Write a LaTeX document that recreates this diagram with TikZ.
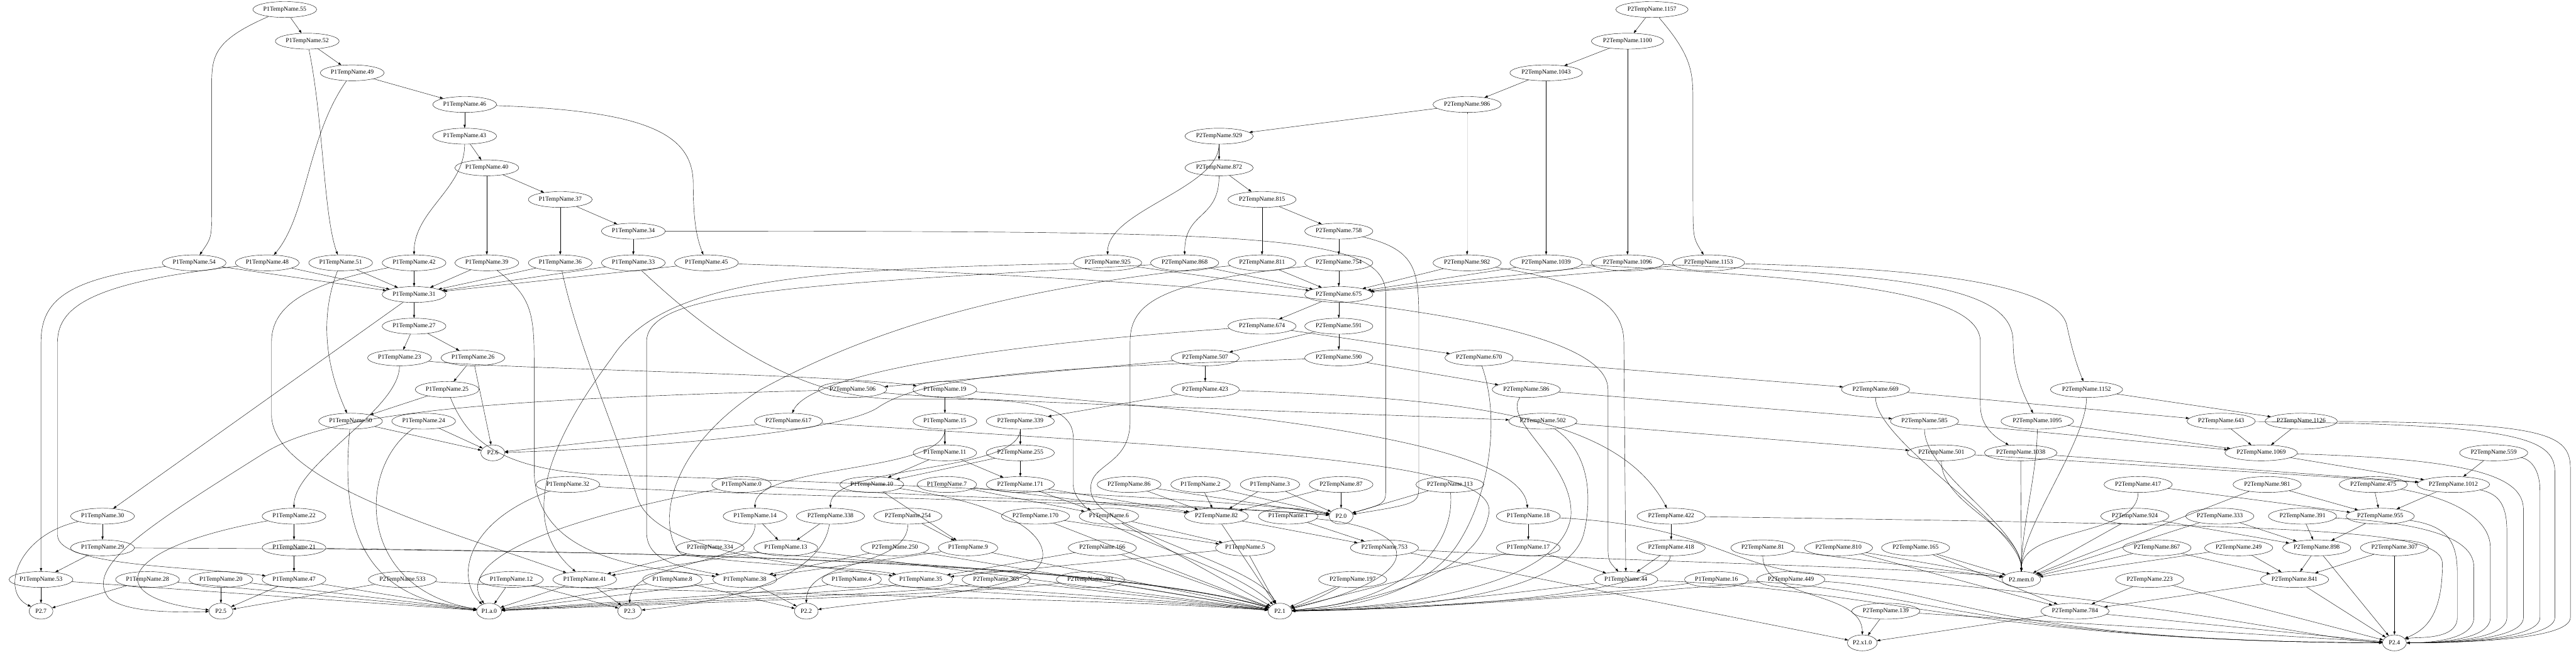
\documentclass[tikz,border=0pt]{standalone}
\usepackage{fontspec}
\setmainfont{Liberation Serif}
\usetikzlibrary{shapes.geometric,arrows.meta}
\tikzset{
  link/.style={-{Triangle[length=7.5pt,width=5pt]}, line width=0.6pt},
  drop/.style={link, to path={(\tikztostart.south) .. controls +(0,1.4) and +(0,-1.4) .. (\tikztotarget.north)}},
  sink/.style={minimum width=54pt}
}
\begin{document}
\begin{tikzpicture}[x=0.75pt, y=-71.78pt, every node/.style={ellipse,draw,line width=0.6pt,minimum height=36pt,inner xsep=2.5pt,font=\fontsize{14}{16}\selectfont}]
\fill[white] (0,-0.3) rectangle (7789,20.38);
\useasboundingbox (0,-0.3) rectangle (7789,20.38);
\node (p55) at (861,0) {P1TempName.55};
\node (p52) at (929,1) {P1TempName.52};
\node (p49) at (1065,2) {P1TempName.49};
\node (p46) at (1405,3) {P1TempName.46};
\node (p43) at (1405,4) {P1TempName.43};
\node (p40) at (1472,5) {P1TempName.40};
\node (p37) at (1694,6) {P1TempName.37};
\node (p34) at (1915,7) {P1TempName.34};
\node (p54) at (587,8) {P1TempName.54};
\node (p48) at (808,8) {P1TempName.48};
\node (p51) at (1030,8) {P1TempName.51};
\node (p42) at (1252,8) {P1TempName.42};
\node (p39) at (1472,8) {P1TempName.39};
\node (p36) at (1694,8) {P1TempName.36};
\node (p33) at (1915,8) {P1TempName.33};
\node (p45) at (2136,8) {P1TempName.45};
\node (p31) at (1252,9) {P1TempName.31};
\node (p27) at (1252,10) {P1TempName.27};
\node (p23) at (1208,11) {P1TempName.23};
\node (p26) at (1430,11) {P1TempName.26};
\node (p25) at (1352,12) {P1TempName.25};
\node (p50) at (1060,13) {P1TempName.50};
\node (p24) at (1281,13) {P1TempName.24};
\node[sink] (s26) at (1490,14) {P2.6};
\node (p30) at (310,16) {P1TempName.30};
\node (p22) at (889,16) {P1TempName.22};
\node (p29) at (310,17) {P1TempName.29};
\node (p21) at (889,17) {P1TempName.21};
\node (p53) at (124,18) {P1TempName.53};
\node (p28) at (446,18) {P1TempName.28};
\node (p20) at (668,18) {P1TempName.20};
\node (p47) at (889,18) {P1TempName.47};
\node (q533) at (1217,18) {P2TempName.533};
\node[sink] (s27) at (124,19) {P2.7};
\node[sink] (s25) at (668,19) {P2.5};
\node (p32) at (1717,15) {P1TempName.32};
\node (p0) at (2242,15) {P1TempName.0};
\node (p10) at (2636,15) {P1TempName.10};
\node (p14) at (2283,16) {P1TempName.14};
\node (q338) at (2511,16) {P2TempName.338};
\node (q334) at (2147,17) {P2TempName.334};
\node (p13) at (2376,17) {P1TempName.13};
\node (p12) at (1546,18) {P1TempName.12};
\node (p41) at (1768,18) {P1TempName.41};
\node (p8) at (2033,18) {P1TempName.8};
\node (p38) at (2252,18) {P1TempName.38};
\node (p4) at (2575,18) {P1TempName.4};
\node[sink] (sa0) at (1479,19) {P1.a.0};
\node[sink] (s23) at (1904,19) {P2.3};
\node[sink] (s22) at (2438,19) {P2.2};
\node (q617) at (2384,13) {P2TempName.617};
\node (q506) at (2578,12) {P2TempName.506};
\node (q1157) at (4995,0) {P2TempName.1157};
\node (q1100) at (4921,1) {P2TempName.1100};
\node (q1043) at (4675,2) {P2TempName.1043};
\node (q986) at (4436,3) {P2TempName.986};
\node (q929) at (3686,4) {P2TempName.929};
\node (q872) at (3686,5) {P2TempName.872};
\node (q815) at (3816,6) {P2TempName.815};
\node (q758) at (4048,7) {P2TempName.758};
\node (q925) at (3349,8) {P2TempName.925};
\node (q868) at (3582,8) {P2TempName.868};
\node (q811) at (3816,8) {P2TempName.811};
\node (q754) at (4048,8) {P2TempName.754};
\node (q982) at (4436,8) {P2TempName.982};
\node (q1039) at (4675,8) {P2TempName.1039};
\node (q1096) at (4921,8) {P2TempName.1096};
\node (q1153) at (5166,8) {P2TempName.1153};
\node (q675) at (4048,9) {P2TempName.675};
\node (q674) at (3816,10) {P2TempName.674};
\node (q591) at (4048,10) {P2TempName.591};
\node (q507) at (3644,11) {P2TempName.507};
\node (q590) at (4048,11) {P2TempName.590};
\node (q670) at (4472,11) {P2TempName.670};
\node (p19) at (2857,12) {P1TempName.19};
\node (q423) at (3644,12) {P2TempName.423};
\node (q586) at (4615,12) {P2TempName.586};
\node (q669) at (5671,12) {P2TempName.669};
\node (q1152) at (6309,12) {P2TempName.1152};
\node (p15) at (2857,13) {P1TempName.15};
\node (q339) at (3085,13) {P2TempName.339};
\node (q502) at (4665,13) {P2TempName.502};
\node (q585) at (5819,13) {P2TempName.585};
\node (q1095) at (6160,13) {P2TempName.1095};
\node (q643) at (6716,13) {P2TempName.643};
\node (q1126) at (6958,13) {P2TempName.1126};
\node (p11) at (2857,14) {P1TempName.11};
\node (q255) at (3085,14) {P2TempName.255};
\node (q501) at (5870,14) {P2TempName.501};
\node (q1038) at (6110,14) {P2TempName.1038};
\node (q1069) at (6837,14) {P2TempName.1069};
\node (q559) at (7540,14) {P2TempName.559};
\node (p7) at (2863,15) {P1TempName.7};
\node (q171) at (3085,15) {P2TempName.171};
\node (q86) at (3414,15) {P2TempName.86};
\node (p2) at (3630,15) {P1TempName.2};
\node (p3) at (3840,15) {P1TempName.3};
\node (q87) at (4055,15) {P2TempName.87};
\node (q113) at (4384,15) {P2TempName.113};
\node (q417) at (6465,15) {P2TempName.417};
\node (q981) at (6855,15) {P2TempName.981};
\node (q475) at (7176,15) {P2TempName.475};
\node (q1012) at (7418,15) {P2TempName.1012};
\node (q254) at (2745,16) {P2TempName.254};
\node (q170) at (3131,16) {P2TempName.170};
\node (p6) at (3353,16) {P1TempName.6};
\node (q82) at (3678,16) {P2TempName.82};
\node (p1) at (3895,16) {P1TempName.1};
\node[sink] (s20) at (4055,16) {P2.0};
\node (p18) at (4621,16) {P1TempName.18};
\node (q422) at (5053,16) {P2TempName.422};
\node (q924) at (6455,16) {P2TempName.924};
\node (q333) at (6712,16) {P2TempName.333};
\node (q391) at (6962,16) {P2TempName.391};
\node (q955) at (7197,16) {P2TempName.955};
\node (q250) at (2706,17) {P2TempName.250};
\node (p9) at (2927,17) {P1TempName.9};
\node (q166) at (3333,17) {P2TempName.166};
\node (p5) at (3765,17) {P1TempName.5};
\node (q753) at (4186,17) {P2TempName.753};
\node (p17) at (4621,17) {P1TempName.17};
\node (q418) at (5053,17) {P2TempName.418};
\node (q81) at (5330,17) {P2TempName.81};
\node (q810) at (5559,17) {P2TempName.810};
\node (q165) at (5792,17) {P2TempName.165};
\node (q867) at (6522,17) {P2TempName.867};
\node (q249) at (6769,17) {P2TempName.249};
\node (q898) at (7005,17) {P2TempName.898};
\node (q307) at (7240,17) {P2TempName.307};
\node (p35) at (2784,18) {P1TempName.35};
\node (q365) at (3012,18) {P2TempName.365};
\node (q281) at (3297,18) {P2TempName.281};
\node (q197) at (4090,18) {P2TempName.197};
\node (p44) at (4916,18) {P1TempName.44};
\node (p16) at (5190,18) {P1TempName.16};
\node (q449) at (5415,18) {P2TempName.449};
\node[sink] (smem) at (6112,18) {P2.mem.0};
\node (q223) at (6500,18) {P2TempName.223};
\node (q841) at (6938,18) {P2TempName.841};
\node[sink] (s21) at (3870,19) {P2.1};
\node (q139) at (5702,19) {P2TempName.139};
\node (q784) at (6274,19) {P2TempName.784};
\node[sink] (sx) at (5631,20) {P2.x1.0};
\node[sink] (s24) at (7240,20) {P2.4};
\draw[link] (p55) -- (p52);
\draw[link] (p52) -- (p49);
\draw[link] (p49) -- (p46);
\draw[link] (p46) -- (p43);
\draw[link] (p43) -- (p40);
\draw[link] (p40) -- (p37);
\draw[link] (p37) -- (p34);
\draw[link] (p34) -- (p33);
\draw[link] (p40) -- (p39);
\draw[link] (p37) -- (p36);
\draw[link] (p55) .. controls (640,1) and (640,1.5) .. (640,2.5) -- (640,6.3) .. controls (640,7.2) .. (p54);
\draw[link] (p52) .. controls (978,3.5) and (978,6.5) .. (p51);
\draw[link] (p49) .. controls (929,4) and (929,6.5) .. (p48);
\draw[link] (p46) .. controls (1950,3.2) and (2096,3.9) .. (2096,5.5) .. controls (2096,6.8) and (2110,7.3) .. (p45);
\draw[drop] (p43) to (p42);
\draw[link] (p34) .. controls (3800,7) and (4190,7.05) .. (4190,9) -- (4190,15.1) .. controls (4190,15.6) .. (s20);
\draw[link] (p54) -- (p31);
\draw[link] (p48) -- (p31);
\draw[link] (p51) -- (p31);
\draw[link] (p42) -- (p31);
\draw[link] (p39) -- (p31);
\draw[link] (p36) -- (p31);
\draw[link] (p33) -- (p31);
\draw[link] (p45) -- (p31);
\draw[link] (p54) .. controls (200,8.5) and (124,9.2) .. (124,10.5) -- (p53);
\draw[link] (p48) .. controls (300,8.6) and (174,9.3) .. (174,10.5) -- (174,16.6) .. controls (174,17.6) and (600,17.6) .. (p47);
\draw[link] (p51) .. controls (974,9.5) and (974,11) .. (p50);
\draw[link] (p42) .. controls (900,8.7) and (821,9.5) .. (821,10.5) -- (821,12.8) .. controls (821,15) and (1400,16.6) .. (p41);
\draw[link] (p39) .. controls (1600,9) and (1615,9.5) .. (1615,11) -- (1615,14.5) .. controls (1615,17.2) and (1900,17.6) .. (p38);
\draw[link] (p36) .. controls (1745,10.5) and (1850,13) .. (1930,15.5) .. controls (2000,17.3) and (2500,17.6) .. (p35);
\draw[link] (p33) .. controls (2150,10.3) and (2400,12.2) .. (2700,12.3) .. controls (3000,12.3) and (3245,12.2) .. (3245,13.5) -- (3245,15) .. controls (3250,16.5) and (3700,17.3) .. (s21);
\draw[link] (p45) .. controls (3800,8.6) and (4862,9.6) .. (4862,12) -- (4862,16.8) .. controls (4862,17.4) .. (p44);
\draw[link] (p31) -- (p30);
\draw[link] (p31) -- (p27);
\draw[link] (p27) -- (p26);
\draw[link] (p27) -- (p23);
\draw[drop] (p23) to (p22);
\draw[link] (p23) .. controls (1500,11.35) and (2500,11.5) .. (p19);
\draw[link] (p26) -- (p25);
\draw[link] (p26) -- (s26);
\draw[link] (p25) -- (p50);
\draw[link] (p25) .. controls (1410,13.5) and (1500,14.6) .. (1850,14.7) .. controls (2800,15) and (3800,15.5) .. (s20);
\draw[link] (p24) -- (s26);
\draw[link] (p24) .. controls (1078,14.5) and (1078,18.3) .. (sa0);
\draw[link] (p50) -- (s26);
\draw[link] (p50) .. controls (1028,16.5) and (1100,18.6) .. (sa0);
\draw[link] (p30) -- (p29);
\draw[link] (p30) .. controls (50,16.6) and (0,18.4) .. (s27);
\draw[link] (p29) -- (p53);
\draw[link] (p29) .. controls (1500,17.05) and (3300,17.2) .. (s21);
\draw[link] (p22) -- (p21);
\draw[link] (p22) .. controls (350,17) and (300,18.6) .. (s25);
\draw[link] (p21) -- (p47);
\draw[link] (p21) .. controls (1500,17.1) and (3300,17.25) .. (s21);
\draw[link] (p53) -- (s27);
\draw[link] (p28) -- (s27);
\draw[link] (p20) -- (s25);
\draw[link] (p47) -- (s25);
\draw[link] (q533) -- (s25);
\draw[link] (q533) .. controls (1700,18.35) and (3300,18.55) .. (s21);
\draw[link] (p53) -- (sa0);
\draw[link] (p28) -- (sa0);
\draw[link] (p20) -- (sa0);
\draw[link] (p47) -- (sa0);
\draw[link] (p12) -- (sa0);
\draw[link] (p41) -- (sa0);
\draw[link] (p8) -- (sa0);
\draw[link] (p38) -- (sa0);
\draw[link] (p4) .. controls (2400,18.4) and (1900,18.65) .. (sa0);
\draw[link] (p35) .. controls (2600,18.42) and (1900,18.7) .. (sa0);
\draw[link] (q365) .. controls (2800,18.45) and (1900,18.75) .. (sa0);
\draw[link] (q281) .. controls (2900,18.5) and (1900,18.8) .. (sa0);
\draw[link] (p32) .. controls (1400,16.2) and (1380,18) .. (sa0);
\draw[link] (p0) .. controls (1500,16.5) and (1400,17.8) .. (sa0);
\draw[link] (p32) .. controls (2200,15.35) and (3600,15.6) .. (s20);
\draw[link] (p0) .. controls (2700,15.35) and (3600,15.6) .. (s20);
\draw[link] (p12) -- (s23);
\draw[link] (p41) -- (s23);
\draw[drop] (p14) to (s23);
\draw[link] (q338) .. controls (2490,17.6) and (2300,18.6) .. (s23);
\draw[link] (p8) -- (s22);
\draw[link] (p38) -- (s22);
\draw[link] (p10) .. controls (3100,15.7) and (3170,16.8) .. (3150,17.4) .. controls (3120,18.4) and (2700,18.6) .. (s22);
\draw[drop] (q254) to (s22);
\draw[link] (p14) -- (p13);
\draw[link] (q338) -- (p13);
\draw[link] (q334) -- (p41);
\draw[link] (p13) -- (p41);
\draw[link] (q334) .. controls (2500,17.4) and (3500,17.8) .. (s21);
\draw[link] (p13) -- (s21);
\draw[drop] (p15) to (p14);
\draw[link] (p15) -- (p11);
\draw[link] (p19) -- (p15);
\draw[link] (p19) .. controls (3900,12.8) and (4600,13.8) .. (p18);
\draw[link] (p11) -- (p10);
\draw[link] (p11) -- (q171);
\draw[link] (q255) -- (p10);
\draw[link] (q255) -- (q171);
\draw[link] (q339) -- (q255);
\draw[drop] (q339) to (q338);
\draw[link] (q423) -- (q339);
\draw[link] (q423) .. controls (4500,12.3) and (4900,13) .. (q422);
\draw[link] (q507) -- (q423);
\draw[link] (q507) -- (q506);
\draw[link] (q591) -- (q507);
\draw[link] (q591) -- (q590);
\draw[link] (q675) -- (q591);
\draw[link] (q675) -- (q674);
\draw[link] (q674) -- (q670);
\draw[link] (q674) .. controls (3000,10.6) and (2450,11.5) .. (q617);
\draw[link] (q617) -- (s26);
\draw[link] (q617) .. controls (3900,14) and (4550,14.3) .. (4500,16) .. controls (4460,18) and (4100,18.8) .. (s21);
\draw[link] (q590) .. controls (3200,11.3) and (2800,11.5) .. (2650,12.6) .. controls (2500,13.5) and (1800,13.9) .. (s26);
\draw[link] (q590) -- (q586);
\draw[link] (q506) .. controls (2900,12.35) and (3700,12.6) .. (q502);
\draw[link] (q506) .. controls (1500,12.3) and (1000,12.7) .. (800,14) .. controls (450,16.3) and (250,17.6) .. (330,18.6) .. controls (380,19) and (500,19.05) .. (s25);
\draw[link] (q422) -- (q418);
\draw[link] (q422) .. controls (7000,16.3) and (7385,16.4) .. (7385,17.5) .. controls (7385,19.2) and (7330,19.6) .. (s24);
\draw[link] (q418) -- (p44);
\draw[link] (q418) .. controls (5040,18.5) and (4300,18.95) .. (s21);
\draw[link] (p18) -- (p17);
\draw[link] (p18) .. controls (5150,16.3) and (5200,17.4) .. (5450,17.8) .. controls (6500,18.5) and (7000,19.9) .. (s24);
\draw[link] (p17) -- (p44);
\draw[link] (p17) -- (s21);
\draw[link] (p10) -- (p9);
\draw[link] (q254) -- (p9);
\draw[link] (p7) -- (p6);
\draw[link] (q171) -- (p6);
\draw[link] (p7) -- (q82);
\draw[link] (q171) -- (q82);
\draw[link] (q86) -- (q82);
\draw[link] (p2) -- (q82);
\draw[link] (p3) -- (q82);
\draw[link] (q87) -- (q82);
\draw[link] (q86) -- (s20);
\draw[link] (p2) -- (s20);
\draw[link] (p3) -- (s20);
\draw[link] (q87) -- (s20);
\draw[link] (q113) -- (s20);
\draw[link] (q113) .. controls (4400,17) and (4250,18.7) .. (s21);
\draw[link] (p6) -- (p5);
\draw[link] (q170) -- (p5);
\draw[link] (p6) -- (s21);
\draw[link] (q170) -- (s21);
\draw[link] (q82) -- (q753);
\draw[link] (p1) -- (q753);
\draw[link] (q82) -- (s21);
\draw[link] (p1) .. controls (4300,16.4) and (4330,17.9) .. (s21);
\draw[link] (p9) -- (p38);
\draw[link] (q250) -- (p38);
\draw[link] (p9) -- (s21);
\draw[link] (q250) -- (s21);
\draw[link] (p5) -- (p35);
\draw[link] (q166) -- (p35);
\draw[link] (p5) -- (s21);
\draw[link] (q166) -- (s21);
\draw[link] (p35) .. controls (3000,18.35) and (3500,18.6) .. (s21);
\draw[link] (q365) -- (s21);
\draw[link] (q281) -- (s21);
\draw[link] (p4) .. controls (2800,18.38) and (3500,18.65) .. (s21);
\draw[link] (q197) -- (s21);
\draw[link] (q197) to[bend left=6] (s21);
\draw[link] (p44) .. controls (4600,18.4) and (4200,18.9) .. (s21);
\draw[link] (p16) .. controls (4900,18.42) and (4300,18.92) .. (s21);
\draw[link] (q449) .. controls (4900,18.45) and (4300,18.95) .. (s21);
\draw[link] (q670) .. controls (4540,13) and (4500,15.5) .. (4400,17) .. controls (4300,18.4) and (4100,18.9) .. (s21);
\draw[link] (q586) .. controls (4540,13) and (4760,14.3) .. (4750,16) .. controls (4720,18.3) and (4200,18.9) .. (s21);
\draw[link] (q502) .. controls (4812,14) and (4812,15.5) .. (4790,16.5) .. controls (4750,18.5) and (4250,18.95) .. (s21);
\draw[link] (q1157) -- (q1100);
\draw[link] (q1100) -- (q1043);
\draw[link] (q1043) -- (q986);
\draw[link] (q986) -- (q929);
\draw[link] (q929) -- (q872);
\draw[link] (q872) -- (q815);
\draw[link] (q815) -- (q758);
\draw[link] (q815) -- (q811);
\draw[link] (q758) -- (q754);
\draw[link] (q758) .. controls (4290,7.6) and (4290,8.3) .. (4290,10) -- (4290,15) .. controls (4290,15.6) .. (s20);
\draw[drop] (q929) to (q925);
\draw[drop] (q872) to (q868);
\draw[drop] (q986) to (q982);
\draw[drop] (q1043) to (q1039);
\draw[drop] (q1100) to (q1096);
\draw[link] (q1157) .. controls (5119,1.5) and (5119,2) .. (5119,3) -- (5119,6) .. controls (5119,7.2) .. (q1153);
\draw[link] (q925) -- (q675);
\draw[link] (q868) -- (q675);
\draw[link] (q811) -- (q675);
\draw[link] (q754) -- (q675);
\draw[link] (q982) -- (q675);
\draw[link] (q1039) -- (q675);
\draw[link] (q1096) -- (q675);
\draw[link] (q1153) -- (q675);
\draw[link] (q925) .. controls (2400,8.2) and (2000,8.6) .. (1850,11) .. controls (1600,14.5) and (1600,16.5) .. (p41);
\draw[link] (q868) .. controls (2400,8.7) and (1955,8.9) .. (1955,10.5) -- (1955,16.5) .. controls (1955,17.4) and (2050,17.6) .. (p38);
\draw[link] (q811) .. controls (3000,8.8) and (2600,10.3) .. (2300,12) .. controls (2000,14) and (1990,16.5) .. (2060,17.2) .. controls (2300,17.6) and (2600,17.6) .. (p35);
\draw[link] (q754) .. controls (3500,8.6) and (3417,9.3) .. (3417,10.5) -- (3417,13) .. controls (3417,14.5) and (3280,14.3) .. (3300,15.3) .. controls (3330,16.5) and (3800,17.5) .. (s21);
\draw[link] (q982) .. controls (4800,8.6) and (4910,9.3) .. (4910,10.5) -- (p44);
\draw[link] (q1039) .. controls (5600,8.5) and (5988,9) .. (5988,10.5) -- (5988,12.5) .. controls (5988,13.3) and (6050,13.6) .. (q1038);
\draw[link] (q1096) .. controls (5800,8.4) and (6087,8.8) .. (6087,10.5) .. controls (6087,11.5) and (6120,12.2) .. (q1095);
\draw[link] (q1153) .. controls (5900,8.2) and (6228,8.8) .. (6250,10) .. controls (6270,11) and (6290,11.5) .. (q1152);
\draw[link] (q670) -- (q669);
\draw[link] (q586) -- (q585);
\draw[link] (q502) -- (q501);
\draw[drop] (q669) to (smem);
\draw[drop] (q585) to (smem);
\draw[drop] (q501) to (smem);
\draw[drop] (q1038) to (smem);
\draw[drop] (q1095) to (smem);
\draw[drop] (q1152) to (smem);
\draw[drop] (q417) to (smem);
\draw[link] (q924) -- (smem);
\draw[link] (q867) -- (smem);
\draw[link] (q81) -- (smem);
\draw[link] (q810) -- (smem);
\draw[link] (q165) -- (smem);
\draw[link] (q753) .. controls (4800,17.4) and (5800,17.6) .. (smem);
\draw[link] (q333) -- (smem);
\draw[link] (q249) -- (smem);
\draw[link] (q981) -- (smem);
\draw[link] (q669) -- (q643);
\draw[link] (q1152) -- (q1126);
\draw[link] (q585) -- (q1069);
\draw[link] (q1095) -- (q1069);
\draw[link] (q501) -- (q1012);
\draw[link] (q1038) -- (q1012);
\draw[link] (q643) -- (q1069);
\draw[link] (q1126) -- (q1069);
\draw[link] (q1069) -- (q1012);
\draw[link] (q559) -- (q1012);
\draw[link] (q1012) -- (q955);
\draw[link] (q981) -- (q955);
\draw[link] (q475) -- (q955);
\draw[link] (q417) -- (q955);
\draw[link] (q955) -- (q898);
\draw[link] (q391) -- (q898);
\draw[link] (q333) -- (q898);
\draw[link] (q924) -- (q898);
\draw[link] (q898) -- (q841);
\draw[link] (q307) -- (q841);
\draw[link] (q249) -- (q841);
\draw[link] (q867) -- (q841);
\draw[link] (q841) -- (q784);
\draw[link] (q223) -- (q784);
\draw[link] (q810) -- (q784);
\draw[link] (q165) -- (q784);
\draw[link] (q784) -- (sx);
\draw[link] (q139) -- (sx);
\draw[drop] (q81) to (sx);
\draw[link] (q753) -- (sx);
\draw[link] (q223) -- (s24);
\draw[link] (q841) -- (s24);
\draw[link] (q898) -- (s24);
\draw[link] (q307) -- (s24);
\draw[link] (q955) .. controls (7400,16.3) and (7430,16.8) .. (7430,17.8) -- (7430,19.2) .. controls (7430,19.95) and (7300,19.8) .. (s24);
\draw[link] (q391) .. controls (7300,16.2) and (7480,16.6) .. (7480,17.6) -- (7480,19.2) .. controls (7480,19.95) and (7330,20) .. (s24);
\draw[link] (q475) .. controls (7400,15.4) and (7530,16) .. (7530,17) -- (7530,19.2) .. controls (7530,19.95) and (7350,20) .. (s24);
\draw[link] (q1012) .. controls (7560,15.3) and (7580,15.7) .. (7580,16.5) -- (7580,19.2) .. controls (7580,19.95) and (7360,20) .. (s24);
\draw[link] (q1069) .. controls (7500,14.2) and (7630,14.8) .. (7630,15.8) -- (7630,19.2) .. controls (7630,19.95) and (7370,20) .. (s24);
\draw[link] (q559) .. controls (7650,14.2) and (7680,14.5) .. (7680,15.2) -- (7680,19.2) .. controls (7680,19.95) and (7380,20) .. (s24);
\draw[link] (q643) .. controls (7600,13.1) and (7725,13.5) .. (7725,14.6) -- (7725,19.2) .. controls (7725,19.95) and (7390,20) .. (s24);
\draw[link] (q1126) .. controls (7700,13.05) and (7772,13.4) .. (7772,14.5) -- (7772,19.2) .. controls (7772,19.95) and (7400,20) .. (s24);
\draw[link] (q784) -- (s24);
\draw[link] (q139) -- (s24);
\draw[link] (q449) .. controls (5900,18.3) and (6000,19.95) .. (s24);
\draw[link] (p16) .. controls (5800,18.3) and (6000,19.95) .. (s24);
\draw[link] (p44) .. controls (5700,18.3) and (6000,19.95) .. (s24);
\end{tikzpicture}
\end{document}
